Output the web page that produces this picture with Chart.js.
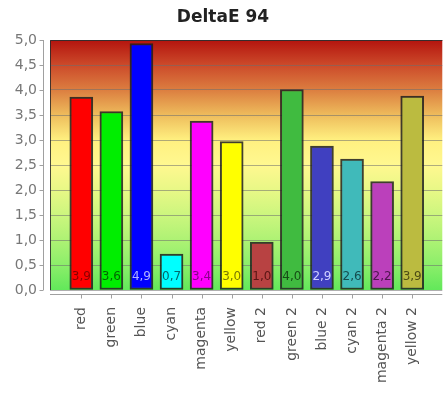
<!DOCTYPE html>
<html>
<head>
<meta charset="utf-8">
<script src="https://cdn.jsdelivr.net/npm/chart.js@4/dist/chart.umd.min.js"></script>
<style>
  html, body { margin: 0; padding: 0; background: #fff; }
  #wrap { width: 446px; height: 394px; }
</style>
</head>
<body>
<div id="wrap"><canvas id="c" width="446" height="394"></canvas></div>
<script>
// Colour names measured, and their DeltaE 94 values
const categories = ['red', 'green', 'blue', 'cyan', 'magenta', 'yellow',
                    'red 2', 'green 2', 'blue 2', 'cyan 2', 'magenta 2', 'yellow 2'];
const deltaE = [3.86, 3.57, 4.93, 0.72, 3.38, 2.97, 0.96, 4.01, 2.88, 2.62, 2.17, 3.88];
const yTicks = [0, 0.5, 1, 1.5, 2, 2.5, 3, 3.5, 4, 4.5, 5];

// Bar fills and the colour of the value written inside each bar
const barColors = ['#ff0000', '#00ee00', '#0000ff', '#00ffff', '#ff00ff', '#ffff00',
                   '#b84242', '#40bb40', '#4040c0', '#40baba', '#bb40bb', '#bbbb40'];
const labelColors = ['#8a0000', '#006a00', '#b0b0ff', '#006a6a', '#8a008a', '#7a7a00',
                     '#5a1515', '#154d15', '#d0d0ff', '#154d4d', '#4d154d', '#4d4d15'];

// Background bands from good (green, low) to bad (red, high)
const bgStops = [
  [0.0, '#62e85a'], [0.5, '#8cee6a'], [1.0, '#aef274'], [1.5, '#ccf67e'],
  [2.0, '#e8f886'], [2.5, '#fff890'], [3.0, '#fff080'], [3.5, '#eebc5c'],
  [4.0, '#dc7e40'], [4.5, '#cc4a2a'], [5.0, '#b4140e']
];

const fmt = v => v.toFixed(1).replace('.', ',');

const plotDecor = {
  id: 'plotDecor',
  beforeDraw(chart) {
    const { ctx, chartArea: a, scales: { y } } = chart;
    const g = ctx.createLinearGradient(0, y.getPixelForValue(0), 0, y.getPixelForValue(5));
    bgStops.forEach(([v, c]) => g.addColorStop(v / 5, c));
    ctx.save();
    ctx.fillStyle = g;
    ctx.fillRect(a.left, a.top, a.right - a.left, a.bottom - a.top);
    ctx.restore();
  },
  afterDatasetsDraw(chart) {
    const { ctx, chartArea: a } = chart;
    const meta = chart.getDatasetMeta(0);
    ctx.save();
    ctx.font = '12px "DejaVu Sans", sans-serif';
    ctx.textAlign = 'center';
    ctx.textBaseline = 'middle';
    meta.data.forEach((bar, i) => {
      ctx.fillStyle = labelColors[i];
      ctx.fillText(fmt(deltaE[i]), bar.x, a.bottom - 13);
    });
    ctx.restore();
  },
  afterDraw(chart) {
    const { ctx, chartArea: a, scales: { x, y } } = chart;
    ctx.save();
    // plot outline
    ctx.strokeStyle = 'rgba(40,40,40,0.85)';
    ctx.lineWidth = 1;
    ctx.beginPath();
    ctx.moveTo(a.left + 0.5, a.bottom);
    ctx.lineTo(a.left + 0.5, a.top + 0.5);
    ctx.lineTo(a.right, a.top + 0.5);
    ctx.stroke();
    // axis lines, offset from the plot
    ctx.strokeStyle = '#a0a0a0';
    ctx.beginPath();
    const ax = a.left - 6.5;
    ctx.moveTo(ax, a.top);
    ctx.lineTo(ax, a.bottom);
    yTicks.forEach(v => {
      const py = Math.round(y.getPixelForValue(v)) + 0.5;
      ctx.moveTo(ax - 4, py);
      ctx.lineTo(ax, py);
    });
    const ay = a.bottom + 4.5;
    ctx.moveTo(a.left, ay);
    ctx.lineTo(a.right, ay);
    categories.forEach((_, i) => {
      const px = Math.round(x.getPixelForValue(i)) + 0.5;
      ctx.moveTo(px, ay);
      ctx.lineTo(px, ay + 4);
    });
    ctx.stroke();
    ctx.restore();
  }
};

new Chart(document.getElementById('c'), {
  type: 'bar',
  data: {
    datasets: [{
      data: deltaE.map((v, i) => ({ x: i, y: v })),
      backgroundColor: barColors,
      borderColor: 'rgba(30,30,30,0.85)',
      borderWidth: 2,
      borderSkipped: false,
      barThickness: 23
    }]
  },
  options: {
    responsive: false,
    animation: false,
    layout: { padding: { left: 0, right: 0, top: 0, bottom: 0 } },
    plugins: {
      legend: { display: false },
      tooltip: { enabled: false },
      title: {
        display: true,
        text: 'DeltaE 94',
        color: '#222',
        font: { family: '"DejaVu Sans", sans-serif', size: 17, weight: 'bold' },
        padding: { top: 7, bottom: 12.6 }
      }
    },
    scales: {
      x: {
        type: 'linear',
        offset: false,
        min: -1.04,
        max: 12.0,
        afterFit: s => { s.height = 104; },
        afterBuildTicks: s => { s.ticks = categories.map((_, i) => ({ value: i })); },
        grid: { display: false, drawTicks: false, offset: false },
        border: { display: false },
        ticks: {
          autoSkip: false,
          minRotation: 90,
          maxRotation: 90,
          padding: 17,
          color: '#555',
          font: { family: '"DejaVu Sans", sans-serif', size: 14 },
          callback: v => categories[v] ?? ''
        }
      },
      y: {
        min: 0,
        max: 5,
        afterFit: s => { s.width = 50; },
        afterBuildTicks: s => { s.ticks = yTicks.map(v => ({ value: v })); },
        grid: { color: 'rgba(110,110,110,0.55)', lineWidth: 1, drawTicks: false },
        border: { display: false },
        ticks: {
          padding: 13,
          color: '#777',
          font: { family: '"DejaVu Sans", sans-serif', size: 14 },
          callback: v => fmt(v)
        }
      }
    }
  },
  plugins: [plotDecor]
});
</script>
</body>
</html>
